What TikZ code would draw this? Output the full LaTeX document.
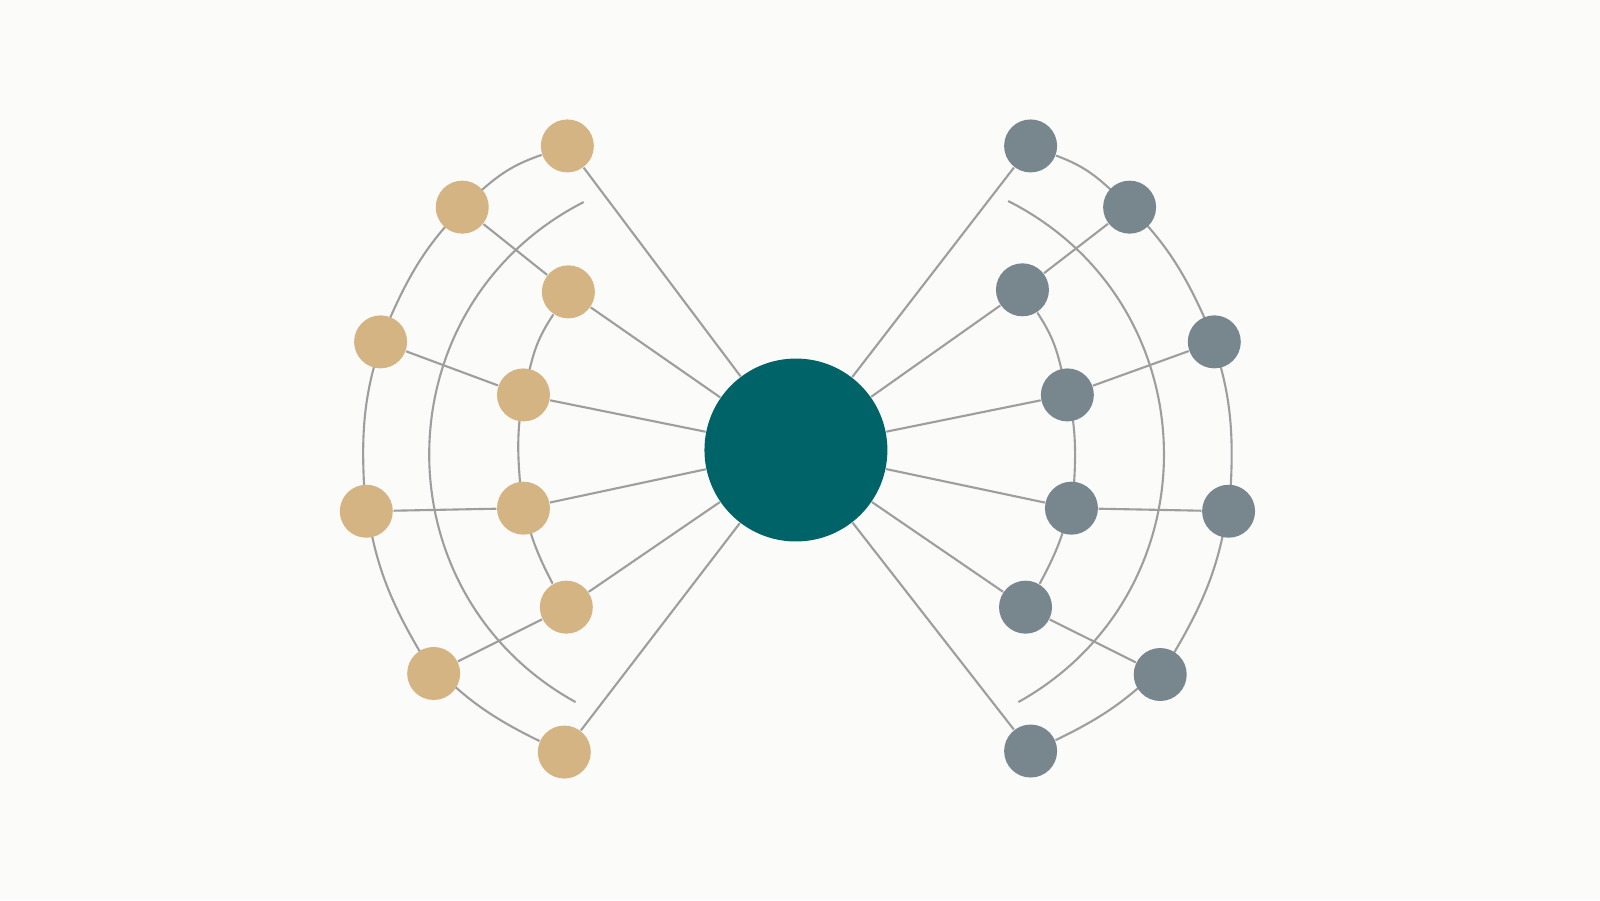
\documentclass[tikz,border=0pt]{standalone}
\usepackage{tikz}
\usetikzlibrary{backgrounds}
\definecolor{bgwhite}{HTML}{FBFBFA}
\definecolor{sand}{HTML}{D4B482}
\definecolor{slate}{HTML}{78868E}
\definecolor{teal}{HTML}{006368}
\definecolor{wire}{HTML}{9E9E9E}
\tikzset{
	sandnode/.style={circle, fill=sand, inner sep=0, minimum size=0.53cm},
	slatenode/.style={circle, fill=slate, inner sep=0, minimum size=0.53cm},
	hubnode/.style={circle, fill=teal, inner sep=0, minimum size=1.83cm},
	link/.style={draw=wire, line width=0.6pt},
}

\begin{document}
\begin{tikzpicture}[x=0.010204cm, y=-0.010204cm]
		%%%%% START %%%%%
		
		\useasboundingbox (0, 0) rectangle (1568, 882);
		
		\node[hubnode] (hub) at (780, 441) {};
		
		% left wing
		\node[sandnode] (la) at (556, 143) {};
		\node[sandnode] (lb) at (453, 203) {};
		\node[sandnode] (lc) at (557, 286) {};
		\node[sandnode] (ld) at (373, 335) {};
		\node[sandnode] (le) at (513, 387) {};
		\node[sandnode] (lf) at (359, 501) {};
		\node[sandnode] (lg) at (513, 498) {};
		\node[sandnode] (lh) at (555, 595) {};
		\node[sandnode] (li) at (425, 660) {};
		\node[sandnode] (lj) at (553, 737) {};
		\coordinate (ltop) at (572, 198);
		\coordinate (lbot) at (564, 688);
		
		% right wing
		\node[slatenode] (ra) at (1010, 143) {};
		\node[slatenode] (rb) at (1107, 203) {};
		\node[slatenode] (rc) at (1002, 284) {};
		\node[slatenode] (rd) at (1190, 335) {};
		\node[slatenode] (re) at (1046, 387) {};
		\node[slatenode] (rf) at (1204, 501) {};
		\node[slatenode] (rg) at (1050, 498) {};
		\node[slatenode] (rh) at (1005, 595) {};
		\node[slatenode] (ri) at (1137, 661) {};
		\node[slatenode] (rj) at (1010, 736) {};
		\coordinate (rtop) at (988, 197);
		\coordinate (rbot) at (998, 688);
		
		\begin{scope}[on background layer]
		\fill[bgwhite] (0, 0) rectangle (1568, 882);
		
		\path[link] (la) -- (hub) (lc) -- (hub) (le) -- (hub) (lg) -- (hub) (lh) -- (hub) (lj) -- (hub);
		\path[link] (lb) -- (lc) (ld) -- (le) (lf) -- (lg) (li) -- (lh);
		\path[link] (la) to[bend right=11] (lb) to[bend right=12] (ld) to[bend right=12] (lf) to[bend right=12] (li) to[bend right=11] (lj);
		\path[link] (lc) to[bend right=10] (le) to[bend right=10] (lg) to[bend right=10] (lh);
		\path[link] (ltop) to[bend right=62, looseness=1.16] (lbot);
		
		\path[link] (ra) -- (hub) (rc) -- (hub) (re) -- (hub) (rg) -- (hub) (rh) -- (hub) (rj) -- (hub);
		\path[link] (rb) -- (rc) (rd) -- (re) (rf) -- (rg) (ri) -- (rh);
		\path[link] (ra) to[bend left=11] (rb) to[bend left=12] (rd) to[bend left=12] (rf) to[bend left=12] (ri) to[bend left=11] (rj);
		\path[link] (rc) to[bend left=10] (re) to[bend left=10] (rg) to[bend left=10] (rh);
		\path[link] (rtop) to[bend left=62, looseness=1.16] (rbot);
		\end{scope}
		
		%%%%% END %%%%%
	\end{tikzpicture}
\end{document}
